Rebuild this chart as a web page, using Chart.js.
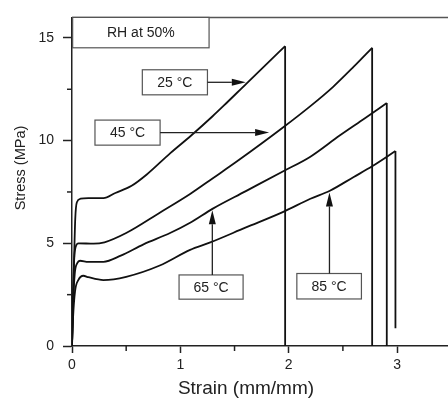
<!DOCTYPE html>
<html>
<head>
<meta charset="utf-8">
<script src="https://cdn.jsdelivr.net/npm/chart.js@4.4.1/dist/chart.umd.min.js"></script>
<style>
  html, body { margin: 0; padding: 0; background: #fff; }
</style>
</head>
<body>
<canvas id="chart" width="448" height="398"></canvas>
<script>
// stress-strain curves (strain mm/mm, stress MPa)
// last point of each series is the end of the vertical drop at fracture
const strain25 = [0, 0.01, 0.02, 0.03, 0.045, 0.08, 0.15, 0.29, 0.4, 0.55, 0.69, 0.905, 1.1, 1.3, 1.4, 1.61, 1.8, 1.967, 1.967];
const stress25 = [0, 2.2, 4.4, 6.2, 7.0, 7.17, 7.2, 7.2, 7.45, 7.8, 8.35, 9.38, 10.25, 11.2, 11.7, 12.78, 13.75, 14.6, 0];

const strain45 = [0, 0.01, 0.02, 0.035, 0.06, 0.2, 0.3, 0.5, 0.81, 1.09, 1.3, 1.52, 1.95, 2.2, 2.41, 2.6, 2.77, 2.77];
const stress45 = [0, 2.5, 4.2, 4.85, 5.0, 4.98, 5.05, 5.5, 6.49, 7.4, 8.17, 8.98, 10.65, 11.68, 12.62, 13.6, 14.52, 0];

const strain65 = [0, 0.01, 0.025, 0.05, 0.074, 0.15, 0.29, 0.45, 0.66, 0.905, 1.09, 1.3, 1.6, 1.95, 2.2, 2.47, 2.7, 2.905, 2.905];
const stress65 = [0, 2.0, 3.5, 4.05, 4.15, 4.1, 4.1, 4.4, 4.95, 5.5, 6.0, 6.69, 7.53, 8.51, 9.22, 10.25, 11.08, 11.83, 0];

const strain85 = [0, 0.01, 0.028, 0.058, 0.105, 0.15, 0.29, 0.5, 0.81, 1.09, 1.27, 1.6, 1.95, 2.2, 2.38, 2.6, 2.77, 2.985, 2.985];
const stress85 = [0, 1.4, 2.66, 3.21, 3.42, 3.35, 3.21, 3.37, 3.92, 4.68, 5.03, 5.76, 6.53, 7.17, 7.56, 8.23, 8.75, 9.49, 0.87];

const xTicks = [0, 1, 2, 3];
const yTicks = [0, 5, 10, 15];
const xMinor = [0.5, 1.5, 2.5];
const yMinor = [2.5, 7.5, 12.5];

// boxed labels with arrows, in data units
const notes = [
  { text: 'RH at 50%', x0: 0.006, x1: 1.265, y0: 14.52, y1: 16.0 },
  { text: '25 °C', x0: 0.649, x1: 1.25, y0: 12.23, y1: 13.45, from: [1.25, 12.84], to: [1.604, 12.84] },
  { text: '45 °C', x0: 0.212, x1: 0.813, y0: 9.78, y1: 11.0, from: [0.813, 10.39], to: [1.819, 10.39] },
  { text: '65 °C', x0: 0.988, x1: 1.579, y0: 2.28, y1: 3.46, from: [1.295, 3.46], to: [1.295, 6.61] },
  { text: '85 °C', x0: 2.075, x1: 2.671, y0: 2.29, y1: 3.53, from: [2.376, 3.53], to: [2.376, 7.48] }
];

const FONT = '"Liberation Sans", Arial, sans-serif';

function toPoints(xs, ys) {
  return xs.map((x, i) => ({ x: x, y: ys[i] }));
}

function line(points, smooth) {
  return {
    data: points,
    showLine: true,
    pointRadius: 0,
    borderColor: '#111',
    borderWidth: 1.8,
    cubicInterpolationMode: smooth ? 'monotone' : 'default',
    tension: 0
  };
}

// loading part smoothed, fracture drop drawn straight
function curve(xs, ys) {
  const pts = toPoints(xs, ys);
  const n = pts.length;
  return [line(pts.slice(0, n - 1), true), line(pts.slice(n - 2), false)];
}

const extras = {
  id: 'extras',
  afterDraw(chart) {
    const ctx = chart.ctx;
    const xs = chart.scales.x, ys = chart.scales.y;
    const area = chart.chartArea;
    ctx.save();

    // top frame line
    ctx.strokeStyle = '#555';
    ctx.lineWidth = 1.5;
    ctx.beginPath();
    ctx.moveTo(area.left, area.top);
    ctx.lineTo(chart.width, area.top);
    ctx.stroke();

    // minor ticks
    ctx.strokeStyle = '#222';
    ctx.lineWidth = 1.5;
    xMinor.forEach(v => {
      const px = xs.getPixelForValue(v);
      ctx.beginPath();
      ctx.moveTo(px, area.bottom);
      ctx.lineTo(px, area.bottom + 5);
      ctx.stroke();
    });
    yMinor.forEach(v => {
      const py = ys.getPixelForValue(v);
      ctx.beginPath();
      ctx.moveTo(area.left, py);
      ctx.lineTo(area.left - 5, py);
      ctx.stroke();
    });

    // boxes and arrows
    notes.forEach(n => {
      const l = xs.getPixelForValue(n.x0), r = xs.getPixelForValue(n.x1);
      const t = ys.getPixelForValue(n.y1), b = ys.getPixelForValue(n.y0);
      ctx.fillStyle = '#fff';
      ctx.fillRect(l, t, r - l, b - t);
      ctx.strokeStyle = '#555';
      ctx.lineWidth = 1.2;
      ctx.strokeRect(l, t, r - l, b - t);
      ctx.fillStyle = '#222';
      ctx.font = '14px ' + FONT;
      ctx.textAlign = 'center';
      ctx.textBaseline = 'middle';
      ctx.fillText(n.text, (l + r) / 2, (t + b) / 2 + 1);

      if (n.from) {
        const fx = xs.getPixelForValue(n.from[0]), fy = ys.getPixelForValue(n.from[1]);
        const tx = xs.getPixelForValue(n.to[0]), ty = ys.getPixelForValue(n.to[1]);
        const ang = Math.atan2(ty - fy, tx - fx);
        const len = 14, hw = 3.5;
        const bx = tx - len * Math.cos(ang), by = ty - len * Math.sin(ang);
        ctx.strokeStyle = '#222';
        ctx.lineWidth = 1.3;
        ctx.beginPath();
        ctx.moveTo(fx, fy);
        ctx.lineTo(bx, by);
        ctx.stroke();
        ctx.fillStyle = '#111';
        ctx.beginPath();
        ctx.moveTo(tx, ty);
        ctx.lineTo(bx + hw * Math.sin(ang), by - hw * Math.cos(ang));
        ctx.lineTo(bx - hw * Math.sin(ang), by + hw * Math.cos(ang));
        ctx.closePath();
        ctx.fill();
      }
    });

    // axis titles
    ctx.fillStyle = '#222';
    ctx.textAlign = 'center';
    ctx.textBaseline = 'alphabetic';
    ctx.font = '19px ' + FONT;
    ctx.fillText('Strain (mm/mm)', 246, 394);
    ctx.translate(25, 168);
    ctx.rotate(-Math.PI / 2);
    ctx.font = '14.5px ' + FONT;
    ctx.fillText('Stress (MPa)', 0, 0);
    ctx.restore();
  }
};

new Chart(document.getElementById('chart').getContext('2d'), {
  type: 'scatter',
  data: {
    datasets: [].concat(
      curve(strain25, stress25),
      curve(strain45, stress45),
      curve(strain65, stress65),
      curve(strain85, stress85)
    )
  },
  options: {
    responsive: false,
    animation: false,
    layout: { padding: { top: 9, right: 0, left: 0, bottom: 0 } },
    plugins: {
      legend: { display: false },
      tooltip: { enabled: false }
    },
    scales: {
      x: {
        type: 'linear',
        min: 0,
        max: 3.47,
        afterBuildTicks: s => { s.ticks = xTicks.map(v => ({ value: v })); },
        afterFit: s => { s.height = 52; },
        ticks: { color: '#222', font: { family: FONT, size: 14 }, padding: 4 },
        grid: { drawOnChartArea: false, tickLength: 7, tickColor: '#222', tickWidth: 1.5 },
        border: { color: '#222', width: 1.5 }
      },
      y: {
        min: 0,
        max: 16,
        afterBuildTicks: s => { s.ticks = yTicks.map(v => ({ value: v })); },
        afterFit: s => { s.width = 72; },
        ticks: { color: '#222', font: { family: FONT, size: 14 }, padding: 9 },
        grid: { drawOnChartArea: false, tickLength: 9, tickColor: '#222', tickWidth: 1.5 },
        border: { color: '#222', width: 1.5 }
      }
    }
  },
  plugins: [extras]
});
</script>
</body>
</html>
